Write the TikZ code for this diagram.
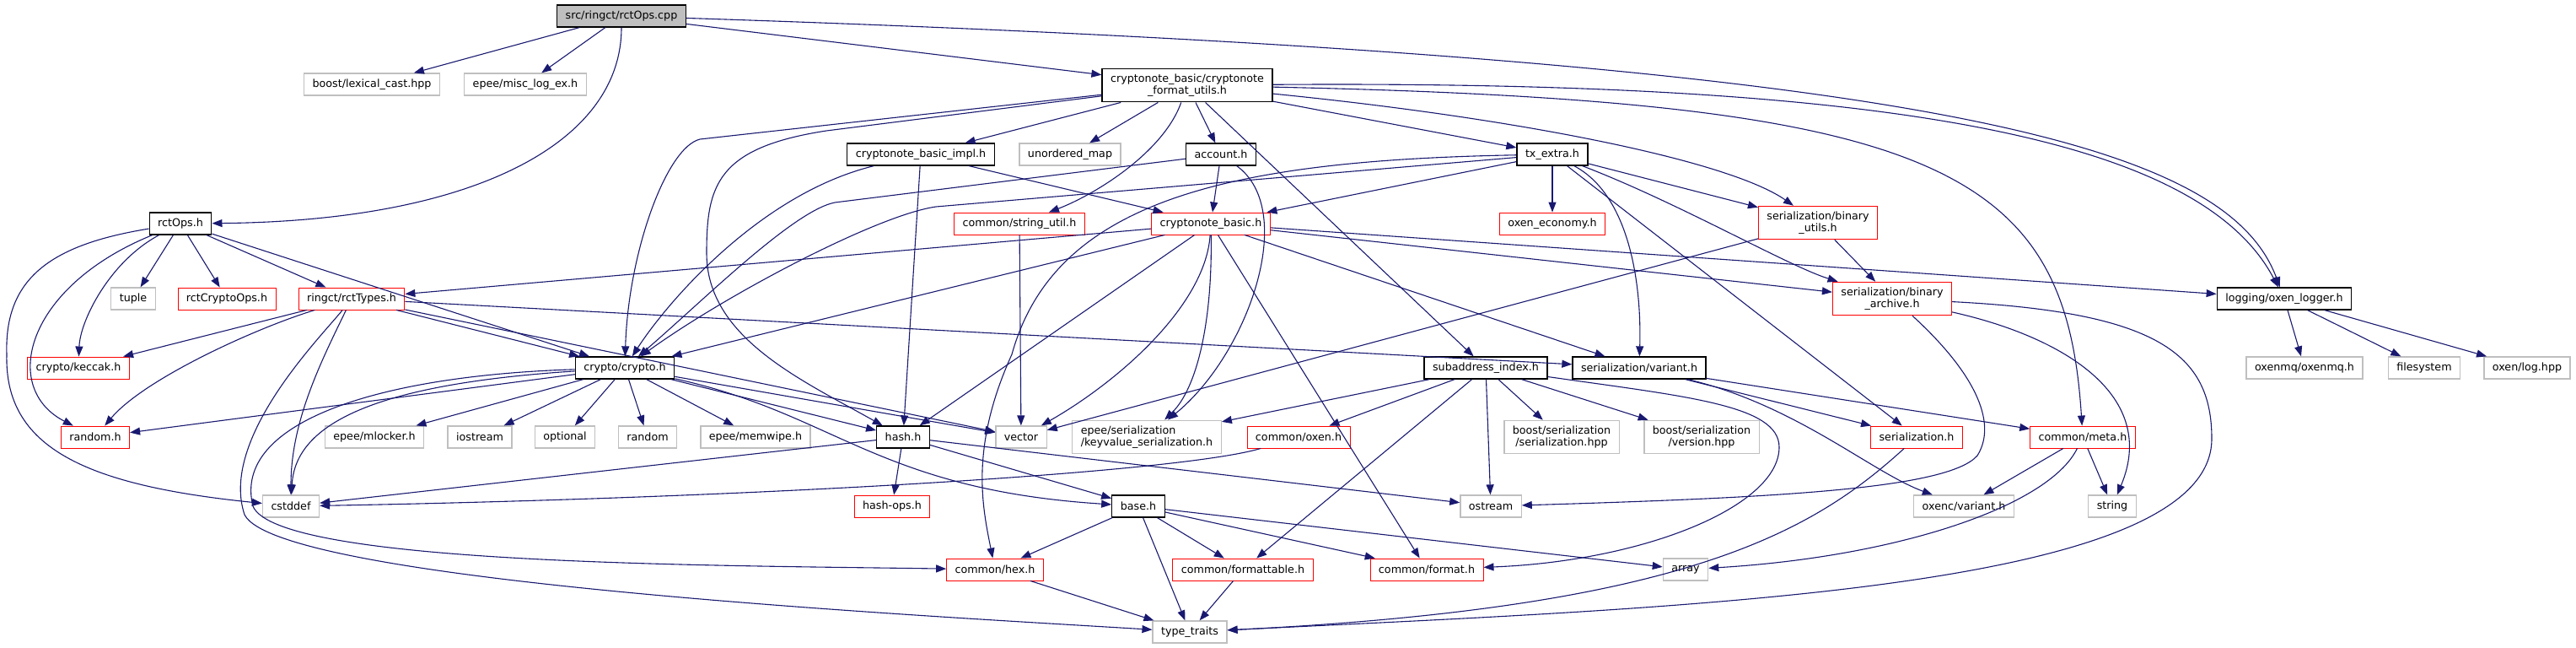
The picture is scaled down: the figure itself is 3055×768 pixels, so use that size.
\documentclass[tikz,border=0pt]{standalone}
\usepackage{fontspec}
\setmainfont{DejaVu Sans}
\usepackage{xcolor}
\usepackage{tikz}
\usetikzlibrary{arrows.meta}
\definecolor{midnight}{RGB}{25,25,112}
\definecolor{grey75}{RGB}{191,191,191}

\begin{document}
\begin{tikzpicture}[x=1pt, y=-1pt,
  file/.style={draw, rectangle, line width=0.9pt, inner xsep=10pt, inner ysep=6.5pt, minimum height=26pt, align=center, font=\fontsize{12.7}{14}\selectfont},
  docfile/.style={file, draw=black, line width=1.3pt},
  redfile/.style={file, draw=red},
  extfile/.style={file, draw=grey75, line width=1.3pt},
  rootfile/.style={file, draw=black, fill=grey75, line width=1.3pt},
  arr/.style={midnight, line width=1.1pt, -{Triangle[length=12pt,width=9pt]}}
]
\useasboundingbox (0,0) rectangle (3055,768);

\node[rootfile] (root) at (737,19) {src/ringct/rctOps.cpp};
\node[extfile] (lexcast) at (441,100) {boost/lexical\_cast.hpp};
\node[extfile] (misclog) at (623,100) {epee/misc\_log\_ex.h};
\node[docfile] (fmtutils) at (1408,101) {cryptonote\_basic/cryptonote\\\_format\_utils.h};
\node[docfile] (basicimpl) at (1092,183) {cryptonote\_basic\_impl.h};
\node[extfile] (umap) at (1269,183) {unordered\_map};
\node[docfile] (account) at (1448,183) {account.h};
\node[docfile] (txextra) at (1841,183) {tx\_extra.h};
\node[docfile] (rctopsh) at (214,265) {rctOps.h};
\node[redfile] (strutil) at (1209,265) {common/string\_util.h};
\node[redfile] (cbasic) at (1436,265) {cryptonote\_basic.h};
\node[redfile] (oxeneco) at (1841,265) {oxen\_economy.h};
\node[redfile] (binutils) at (2156,264) {serialization/binary\\\_utils.h};
\node[extfile] (tuple) at (158,354) {tuple};
\node[redfile] (rctcops) at (269,354) {rctCryptoOps.h};
\node[redfile] (rcttypes) at (417,354) {ringct/rctTypes.h};
\node[redfile] (binarch) at (2244,354) {serialization/binary\\\_archive.h};
\node[docfile] (logger) at (2709,354) {logging/oxen\_logger.h};
\node[redfile] (keccak) at (93,436) {crypto/keccak.h};
\node[docfile] (cryptoh) at (741,436) {crypto/crypto.h};
\node[docfile] (subaddr) at (1762,436) {subaddress\_index.h};
\node[docfile] (variant) at (1944,436) {serialization/variant.h};
\node[extfile] (oxenmq) at (2733,436) {oxenmq/oxenmq.h};
\node[extfile] (filesys) at (2875,436) {filesystem};
\node[extfile] (oxenlog) at (2997,436) {oxen/log.hpp};
\node[redfile] (randomh) at (113,518) {random.h};
\node[extfile] (mlocker) at (444,518) {epee/mlocker.h};
\node[extfile] (iostr) at (569,518) {iostream};
\node[extfile] (optional) at (670,518) {optional};
\node[extfile] (random) at (768,518) {random};
\node[extfile] (memwipe) at (896,518) {epee/memwipe.h};
\node[docfile] (hashh) at (1071,518) {hash.h};
\node[extfile] (vector) at (1211,518) {vector};
\node[extfile, align=left] (keyvalue) at (1360,518) {epee/serialization\\/keyvalue\_serialization.h};
\node[redfile] (oxenh) at (1540,518) {common/oxen.h};
\node[extfile] (boostser) at (1852,518) {boost/serialization\\/serialization.hpp};
\node[extfile] (boostver) at (2018,518) {boost/serialization\\/version.hpp};
\node[redfile] (serializ) at (2273,518) {serialization.h};
\node[redfile] (meta) at (2470,518) {common/meta.h};
\node[extfile] (cstddef) at (345,600) {cstddef};
\node[redfile] (hashops) at (1058,600) {hash-ops.h};
\node[docfile] (baseh) at (1350,600) {base.h};
\node[extfile] (ostream) at (1768,600) {ostream};
\node[extfile] (oxencvar) at (2329,600) {oxenc/variant.h};
\node[extfile] (stringh) at (2505,600) {string};
\node[redfile] (hex) at (1180,675) {common/hex.h};
\node[redfile] (formattable) at (1474,675) {common/formattable.h};
\node[redfile] (format) at (1692,675) {common/format.h};
\node[extfile] (array) at (1999,675) {array};
\node[extfile] (typetraits) at (1411,749) {type\_traits};

\draw[arr] (root) -- (lexcast);
\draw[arr] (root) -- (misclog);
\draw[arr] (root) .. controls (737,170) and (560,262) .. (rctopsh);
\draw[arr] (root) -- (fmtutils);
\draw[arr] (root) .. controls (2300,70) and (2640,170) .. (logger);

\draw[arr] (fmtutils) -- (basicimpl);
\draw[arr] (fmtutils) -- (umap);
\draw[arr] (fmtutils) -- (account);
\draw[arr] (fmtutils) -- (txextra);
\draw[arr] (fmtutils) .. controls (1380,180) and (1300,230) .. (strutil);
\draw[arr] (fmtutils) -- (830,165) .. controls (790,175) and (745,300) .. (cryptoh);
\draw[arr] (fmtutils) -- (980,155) .. controls (850,175) and (838,220) .. (838,300) .. controls (838,400) and (950,450) .. (hashh);
\draw[arr] (fmtutils) .. controls (1800,140) and (2050,190) .. (binutils);
\draw[arr] (fmtutils) -- (subaddr);
\draw[arr] (fmtutils) .. controls (2300,120) and (2450,200) .. (meta);
\draw[arr] (fmtutils) .. controls (2250,95) and (2610,165) .. (logger);

\draw[arr] (basicimpl) .. controls (900,230) and (790,360) .. (cryptoh);
\draw[arr] (basicimpl) -- (hashh);
\draw[arr] (basicimpl) -- (cbasic);
\draw[arr] (account) -- (cbasic);
\draw[arr] (account) -- (990,240) .. controls (940,250) and (830,360) .. (cryptoh);
\draw[arr] (account) .. controls (1540,250) and (1480,420) .. (keyvalue);

\draw[arr] (txextra) -- (1110,245) .. controls (1040,255) and (860,350) .. (cryptoh);
\draw[arr] (txextra) -- (cbasic);
\draw[arr] (txextra) -- (oxeneco);
\draw[arr] (txextra) -- (binutils);
\draw[arr] (txextra) .. controls (1990,240) and (2120,315) .. (binarch);
\draw[arr] (txextra) .. controls (1930,230) and (1947,330) .. (variant);
\draw[arr] (txextra) -- (serializ);
\draw[arr] (txextra) .. controls (1450,190) and (1250,240) .. (1200,420) .. controls (1150,530) and (1165,600) .. (hex);

\draw[arr] (strutil) -- (vector);
\draw[arr] (cbasic) -- (rcttypes);
\draw[arr] (cbasic) -- (cryptoh);
\draw[arr] (cbasic) -- (hashh);
\draw[arr] (cbasic) .. controls (1430,360) and (1330,450) .. (vector);
\draw[arr] (cbasic) .. controls (1438,380) and (1420,460) .. (keyvalue);
\draw[arr] (cbasic) -- (format);
\draw[arr] (cbasic) -- (variant);
\draw[arr] (cbasic) -- (binarch);
\draw[arr] (cbasic) -- (logger);

\draw[arr] (rctopsh) -- (tuple);
\draw[arr] (rctopsh) -- (rctcops);
\draw[arr] (rctopsh) -- (rcttypes);
\draw[arr] (rctopsh) -- (cryptoh);
\draw[arr] (rctopsh) .. controls (130,310) and (95,380) .. (keccak);
\draw[arr] (rctopsh) .. controls (30,340) and (0,460) .. (randomh);
\draw[arr] (rctopsh) .. controls (60,290) and (5,330) .. (8,420) .. controls (5,530) and (100,575) .. (cstddef);

\draw[arr] (rcttypes) -- (keccak);
\draw[arr] (rcttypes) .. controls (300,390) and (170,450) .. (randomh);
\draw[arr] (rcttypes) -- (cryptoh);
\draw[arr] (rcttypes) .. controls (380,430) and (345,500) .. (cstddef);
\draw[arr] (rcttypes) .. controls (380,400) and (260,520) .. (290,610) .. controls (330,690) and (1100,730) .. (typetraits);
\draw[arr] (rcttypes) -- (vector);
\draw[arr] (rcttypes) -- (variant);

\draw[arr] (cryptoh) -- (randomh);
\draw[arr] (cryptoh) .. controls (450,455) and (350,500) .. (cstddef);
\draw[arr] (cryptoh) .. controls (450,445) and (275,500) .. (300,600) .. controls (330,670) and (850,670) .. (hex);
\draw[arr] (cryptoh) -- (mlocker);
\draw[arr] (cryptoh) -- (iostr);
\draw[arr] (cryptoh) -- (optional);
\draw[arr] (cryptoh) -- (random);
\draw[arr] (cryptoh) -- (memwipe);
\draw[arr] (cryptoh) -- (hashh);
\draw[arr] (cryptoh) -- (vector);
\draw[arr] (cryptoh) .. controls (990,490) and (1040,580) .. (baseh);

\draw[arr] (hashh) -- (cstddef);
\draw[arr] (hashh) -- (hashops);
\draw[arr] (hashh) -- (baseh);
\draw[arr] (hashh) -- (ostream);
\draw[arr] (oxenh) .. controls (1400,560) and (900,590) .. (cstddef);

\draw[arr] (subaddr) -- (keyvalue);
\draw[arr] (subaddr) -- (oxenh);
\draw[arr] (subaddr) -- (formattable);
\draw[arr] (subaddr) -- (ostream);
\draw[arr] (subaddr) -- (boostser);
\draw[arr] (subaddr) -- (boostver);
\draw[arr] (subaddr) .. controls (2000,470) and (2110,480) .. (2110,530) .. controls (2110,600) and (1950,665) .. (format);

\draw[arr] (baseh) -- (hex);
\draw[arr] (baseh) -- (typetraits);
\draw[arr] (baseh) -- (formattable);
\draw[arr] (baseh) -- (format);
\draw[arr] (baseh) -- (array);
\draw[arr] (hex) -- (typetraits);
\draw[arr] (formattable) -- (typetraits);

\draw[arr] (binutils) -- (binarch);
\draw[arr] (binutils) -- (vector);
\draw[arr] ([xshift=24pt]binarch.south) .. controls (2340,440) and (2370,500) .. (2345,540) .. controls (2310,580) and (2100,590) .. (ostream);
\draw[arr] (binarch) .. controls (2450,400) and (2560,470) .. (stringh);
\draw[arr] (binarch) .. controls (2560,370) and (2623,420) .. (2623,520) .. controls (2623,700) and (2000,720) .. (typetraits);
\draw[arr] (serializ) .. controls (2150,630) and (2000,720) .. (typetraits);

\draw[arr] (variant) -- (serializ);
\draw[arr] (variant) .. controls (2130,480) and (2220,560) .. (oxencvar);
\draw[arr] (variant) -- (meta);
\draw[arr] (meta) -- (oxencvar);
\draw[arr] (meta) -- (stringh);
\draw[arr] (meta) .. controls (2430,600) and (2250,660) .. (array);

\draw[arr] (logger) -- (oxenmq);
\draw[arr] (logger) -- (filesys);
\draw[arr] (logger) -- (oxenlog);
\end{tikzpicture}
\end{document}
